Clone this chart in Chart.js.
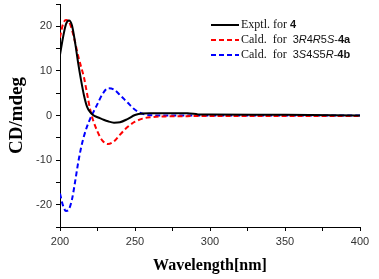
<!DOCTYPE html>
<html>
<head>
<meta charset="utf-8">
<script src="https://cdn.jsdelivr.net/npm/chart.js@4"></script>
<style>
  body { margin: 0; background: #fff; }
  #wrap { position: relative; width: 379px; height: 279px; }
  #legend { position: absolute; left: 211px; top: 17px; font: 12px "Liberation Serif", serif; color: #111; }
  #legend .row { height: 15px; line-height: 15px; white-space: nowrap; }
  #legend svg { vertical-align: middle; margin-right: 2px; }
  .sans { font-family: "Liberation Sans", Arial, sans-serif; font-size: 11px; }
</style>
</head>
<body>
<div id="wrap">
  <canvas id="cdChart" width="379" height="279"></canvas>
  <div id="legend">
    <div class="row"><svg width="28" height="4"><line x1="0" y1="2" x2="28" y2="2" stroke="#000" stroke-width="2"/></svg>Exptl. for <b class="sans">4</b></div>
    <div class="row"><svg width="28" height="4"><line x1="0" y1="2" x2="28" y2="2" stroke="#ff0000" stroke-width="2" stroke-dasharray="5,3"/></svg>Cald.&nbsp; for&nbsp; <span class="sans">3<i>R</i>4<i>R</i>5<i>S</i>-<b>4a</b></span></div>
    <div class="row"><svg width="28" height="4"><line x1="0" y1="2" x2="28" y2="2" stroke="#0000ff" stroke-width="2" stroke-dasharray="5,3"/></svg>Cald.&nbsp; for&nbsp; <span class="sans">3<i>S</i>4<i>S</i>5<i>R</i>-<b>4b</b></span></div>
  </div>
</div>
<script>
// wavelengths (nm) shared by the three curves
const wavelengths = [200, 202, 204, 206, 208, 210, 212, 214, 216, 218, 220, 222, 225, 228, 232, 236, 240, 245, 250, 255, 260, 270, 285, 292, 300, 350, 400];
const exptl = [13.6, 17.5, 20.5, 21.3, 20.2, 16.5, 12, 8, 4.5, 2, 0.8, 0.1, -0.4, -0.8, -1.3, -1.6, -1.5, -0.8, 0.1, 0.45, 0.5, 0.5, 0.5, 0.25, 0.2, 0.15, 0];
const cald4a = [17.5, 20.5, 21.4, 21, 19.2, 16.5, 13.5, 11, 8.5, 5, 1.5, -1, -3.6, -5.5, -6.4, -5.8, -4.3, -2.6, -1.4, -0.7, -0.4, -0.2, -0.15, -0.1, -0.1, -0.1, -0.1];
const cald4b = [-17.5, -20.2, -21.4, -21, -18.8, -15, -10.8, -7.3, -4.6, -2.5, -0.8, 0.6, 2.6, 4.6, 6.1, 5.8, 4.6, 2.9, 1.3, 0.4, 0.05, 0, 0, 0, 0, 0, 0];
const xTicks = [200, 250, 300, 350, 400];
const yTicks = [-20, -10, 0, 10, 20];

const pts = vals => wavelengths.map((w, i) => ({ x: w, y: vals[i] }));

const ctx = document.getElementById('cdChart').getContext('2d');
new Chart(ctx, {
    type: 'line',
    data: {
        datasets: [
            { label: 'Exptl. for 4', data: pts(exptl), borderColor: '#000', borderWidth: 2 },
            { label: 'Cald. for 3R4R5S-4a', data: pts(cald4a), borderColor: '#ff0000', borderWidth: 2, borderDash: [5, 3] },
            { label: 'Cald. for 3S4S5R-4b', data: pts(cald4b), borderColor: '#0000ff', borderWidth: 2, borderDash: [5, 3] }
        ]
    },
    options: {
        responsive: false,
        animation: false,
        cubicInterpolationMode: 'monotone',
        elements: { point: { radius: 0 } },
        layout: { padding: { top: 0, right: 19 } },
        plugins: { legend: { display: false }, tooltip: { enabled: false } },
        scales: {
            x: {
                type: 'linear',
                min: 200, max: 400,
                afterFit: s => { s.height = 52; },
                ticks: {
                    stepSize: 25,
                    color: '#333',
                    padding: 4,
                    maxRotation: 0,
                    font: { family: 'Liberation Sans', size: 11 },
                    callback: v => xTicks.includes(v) ? v : ''
                },
                grid: { drawOnChartArea: false, tickLength: 4, color: '#000' },
                border: { color: '#000', width: 1 },
                title: {
                    display: true,
                    text: 'Wavelength[nm]',
                    color: '#000',
                    font: { family: 'Liberation Serif', size: 16, weight: 'bold' },
                    padding: { bottom: 4 }
                }
            },
            y: {
                min: -25, max: 25,
                afterFit: s => { s.width = 60; s.paddingTop = 4; s.paddingBottom = 0; },
                ticks: {
                    stepSize: 5,
                    color: '#333',
                    padding: 4,
                    font: { family: 'Liberation Sans', size: 11 },
                    callback: v => yTicks.includes(v) ? v : ''
                },
                grid: { drawOnChartArea: false, tickLength: 4, color: '#000' },
                border: { color: '#000', width: 1 },
                title: {
                    display: true,
                    text: 'CD/mdeg',
                    color: '#000',
                    font: { family: 'Liberation Serif', size: 19, weight: 'bold' },
                    padding: { top: 6 }
                }
            }
        }
    }
});
</script>
</body>
</html>
